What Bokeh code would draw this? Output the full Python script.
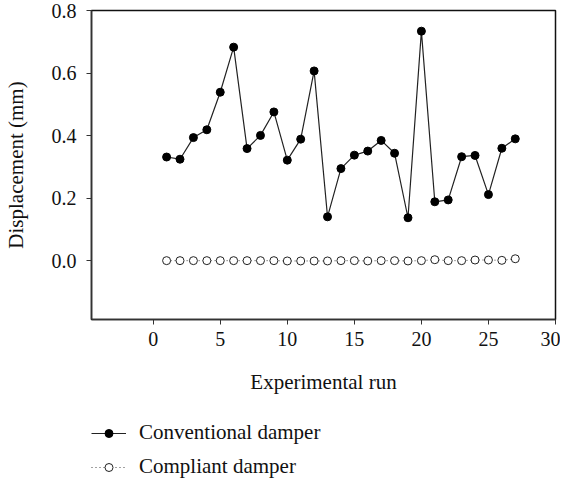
from bokeh.plotting import figure
from bokeh.layouts import column
from bokeh.models import FixedTicker, Legend, LegendItem, NumeralTickFormatter
from bokeh.embed import file_html
from bokeh.resources import INLINE

runs = list(range(1, 28))
conventional = [0.332, 0.325, 0.394, 0.419, 0.539, 0.683, 0.359, 0.401, 0.476, 0.322,
                0.389, 0.607, 0.141, 0.295, 0.338, 0.351, 0.385, 0.344, 0.138, 0.734,
                0.189, 0.195, 0.333, 0.337, 0.212, 0.360, 0.390]
compliant = [0.001, 0.001, 0.001, 0.001, 0.001, 0.001, 0.001, 0.001, 0.001, 0.0,
             0.0, 0.0, 0.0, 0.001, 0.001, 0.0, 0.001, 0.001, 0.0, 0.001,
             0.004, 0.001, 0.001, 0.003, 0.003, 0.002, 0.007]
x_ticks = [0, 5, 10, 15, 20, 25, 30]
y_ticks = [0.0, 0.2, 0.4, 0.6, 0.8]
series_names = ["Conventional damper", "Compliant damper"]

FONT = "Liberation Serif"
TICK_FS = "20px"
LAB_FS = "21px"

conv_line = dict(line_color="#222222", line_width=1.2)
conv_mark = dict(marker="circle", size=8, fill_color="black", line_color="black")
comp_line = dict(line_color="#444444", line_width=1, line_dash="1 3")
comp_mark = dict(marker="circle", size=8, fill_color="white", line_color="#222222", line_width=1)

p = figure(width=560, height=410, x_range=(-4.6, 30), y_range=(-0.187, 0.8),
           output_backend="svg", toolbar_location=None,
           min_border_left=90, min_border_top=10, min_border_right=5, min_border_bottom=91)
p.background_fill_color = "white"
p.border_fill_color = "white"
p.outline_line_color = "#111111"
p.outline_line_width = 1.5
p.xgrid.visible = False
p.ygrid.visible = False

for ax in (p.xaxis[0], p.yaxis[0]):
    ax.axis_line_color = "#333333"
    ax.axis_line_width = 1.5
    ax.major_tick_in = 0
    ax.major_tick_out = 5
    ax.major_tick_line_color = "#333333"
    ax.minor_tick_line_color = None
    ax.major_label_text_font = FONT
    ax.major_label_text_font_size = TICK_FS
    ax.major_label_text_color = "#111111"
    ax.axis_label_text_font = FONT
    ax.axis_label_text_font_size = LAB_FS
    ax.axis_label_text_font_style = "normal"
    ax.axis_label_text_color = "#111111"

p.xaxis.ticker = FixedTicker(ticks=x_ticks)
p.yaxis.ticker = FixedTicker(ticks=y_ticks)
p.yaxis.formatter = NumeralTickFormatter(format="0.0")
p.xaxis.axis_label = "Experimental run"
p.yaxis.axis_label = "Displacement (mm)"
p.xaxis.major_label_standoff = 7
p.xaxis.axis_label_standoff = 21
p.yaxis.major_label_standoff = 10
p.yaxis.axis_label_standoff = 21

p.line(runs, conventional, **conv_line)
p.scatter(runs, conventional, **conv_mark)
p.line(runs, compliant, **comp_line)
p.scatter(runs, compliant, **comp_mark)

# legend strip below the chart; its series lie outside its (empty) view ranges
q = figure(width=560, height=70, output_backend="svg", toolbar_location=None,
           x_range=(-20, -10), y_range=(-20, -10),
           x_axis_location=None, y_axis_location=None,
           min_border_left=90, min_border_top=0, min_border_right=5, min_border_bottom=0)
q.outline_line_color = None
q.xgrid.visible = False
q.ygrid.visible = False
q.background_fill_color = "white"
q.border_fill_color = "white"
r1 = q.line(runs, conventional, **conv_line)
r2 = q.scatter(runs, conventional, **conv_mark)
r3 = q.line(runs, compliant, **comp_line)
r4 = q.scatter(runs, compliant, **comp_mark)
legend = Legend(items=[LegendItem(label=series_names[0], renderers=[r1, r2]),
                       LegendItem(label=series_names[1], renderers=[r3, r4])],
                location=(0, 1), orientation="vertical",
                label_text_font=FONT, label_text_font_size=LAB_FS, label_text_color="#111111",
                glyph_width=35, glyph_height=20, label_standoff=13, spacing=9,
                padding=0, margin=0, border_line_color=None, background_fill_alpha=0)
q.add_layout(legend, "center")

layout = column(p, q, spacing=0)
open("out.html", "w").write(file_html(layout, INLINE))
